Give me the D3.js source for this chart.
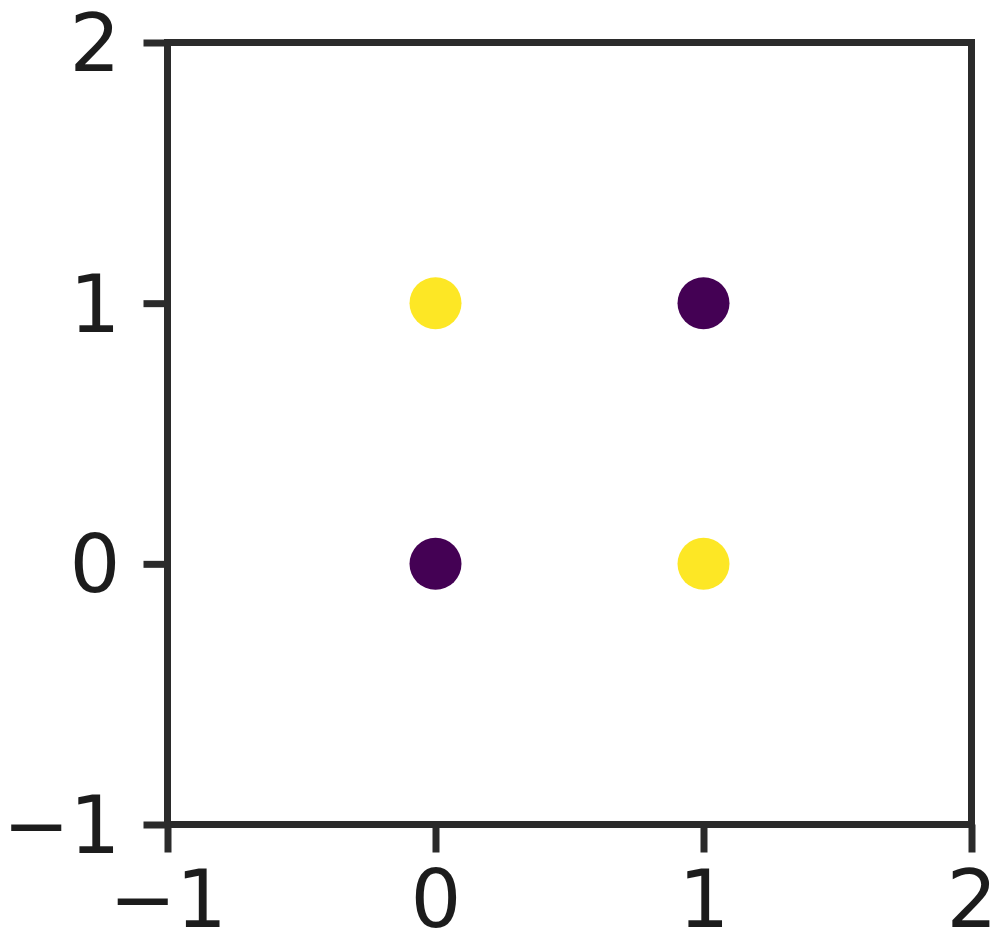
<!DOCTYPE html>
<html>
<head>
<meta charset="utf-8">
<script src="https://cdn.jsdelivr.net/npm/d3@7"></script>
<style>
  body { margin: 0; background: #fff; }
  svg text { font-family: "DejaVu Sans", sans-serif; }
</style>
</head>
<body>
<svg id="chart" width="993" height="933"></svg>
<script>
// data: XOR points
var xs = [0, 1, 0, 1];
var ys = [0, 0, 1, 1];
var labels = [0, 1, 1, 0];
var xTicks = [-1, 0, 1, 2];
var yTicks = [-1, 0, 1, 2];

var width = 993, height = 933;
var svg = d3.select("#chart");

var x = d3.scaleLinear().domain([-1, 2]).range([167.5, 971.5]);
var y = d3.scaleLinear().domain([-1, 2]).range([824.5, 42.5]);

var colors = ["#440154", "#fde725"]; // viridis ends

var lineColor = "#2b2b2b";

// points
svg.append("g")
    .selectAll("circle")
    .data(xs)
    .enter()
    .append("circle")
    .attr("cx", function(d) { return x(d); })
    .attr("cy", function(d, i) { return y(ys[i]); })
    .attr("r", 26)
    .style("fill", function(d, i) { return colors[labels[i]]; });

// y axis
var yAxis = d3.axisLeft(y).tickValues(yTicks).tickFormat(d3.format("d")).tickSizeInner(24).tickSizeOuter(0).tickPadding(23);
var gy = svg.append("g").attr("transform", "translate(167.5,0)").call(yAxis);
gy.select(".domain").remove();
gy.selectAll(".tick line").attr("stroke", lineColor).attr("stroke-width", 7);
gy.selectAll(".tick text")
    .attr("fill", "#1c1c1c")
    .style("font-size", "80px")
    .attr("dy", "0.35em")
    .text(function(d) { return d < 0 ? "\u2212" + Math.abs(d) : d; });

// x axis
var xAxis = d3.axisBottom(x).tickValues(xTicks).tickFormat(d3.format("d")).tickSizeInner(28).tickSizeOuter(0).tickPadding(18);
var gx = svg.append("g").attr("transform", "translate(0,824.5)").call(xAxis);
gx.select(".domain").remove();
gx.selectAll(".tick line").attr("stroke", lineColor).attr("stroke-width", 7);
gx.selectAll(".tick text")
    .attr("fill", "#1c1c1c")
    .style("font-size", "80px")
    .attr("dy", "0.71em")
    .text(function(d) { return d < 0 ? "\u2212" + Math.abs(d) : d; });

// spines
svg.append("rect")
    .attr("x", x(-1))
    .attr("y", y(2))
    .attr("width", x(2) - x(-1))
    .attr("height", y(-1) - y(2))
    .attr("fill", "none")
    .attr("stroke", lineColor)
    .attr("stroke-width", 7);
</script>
</body>
</html>
